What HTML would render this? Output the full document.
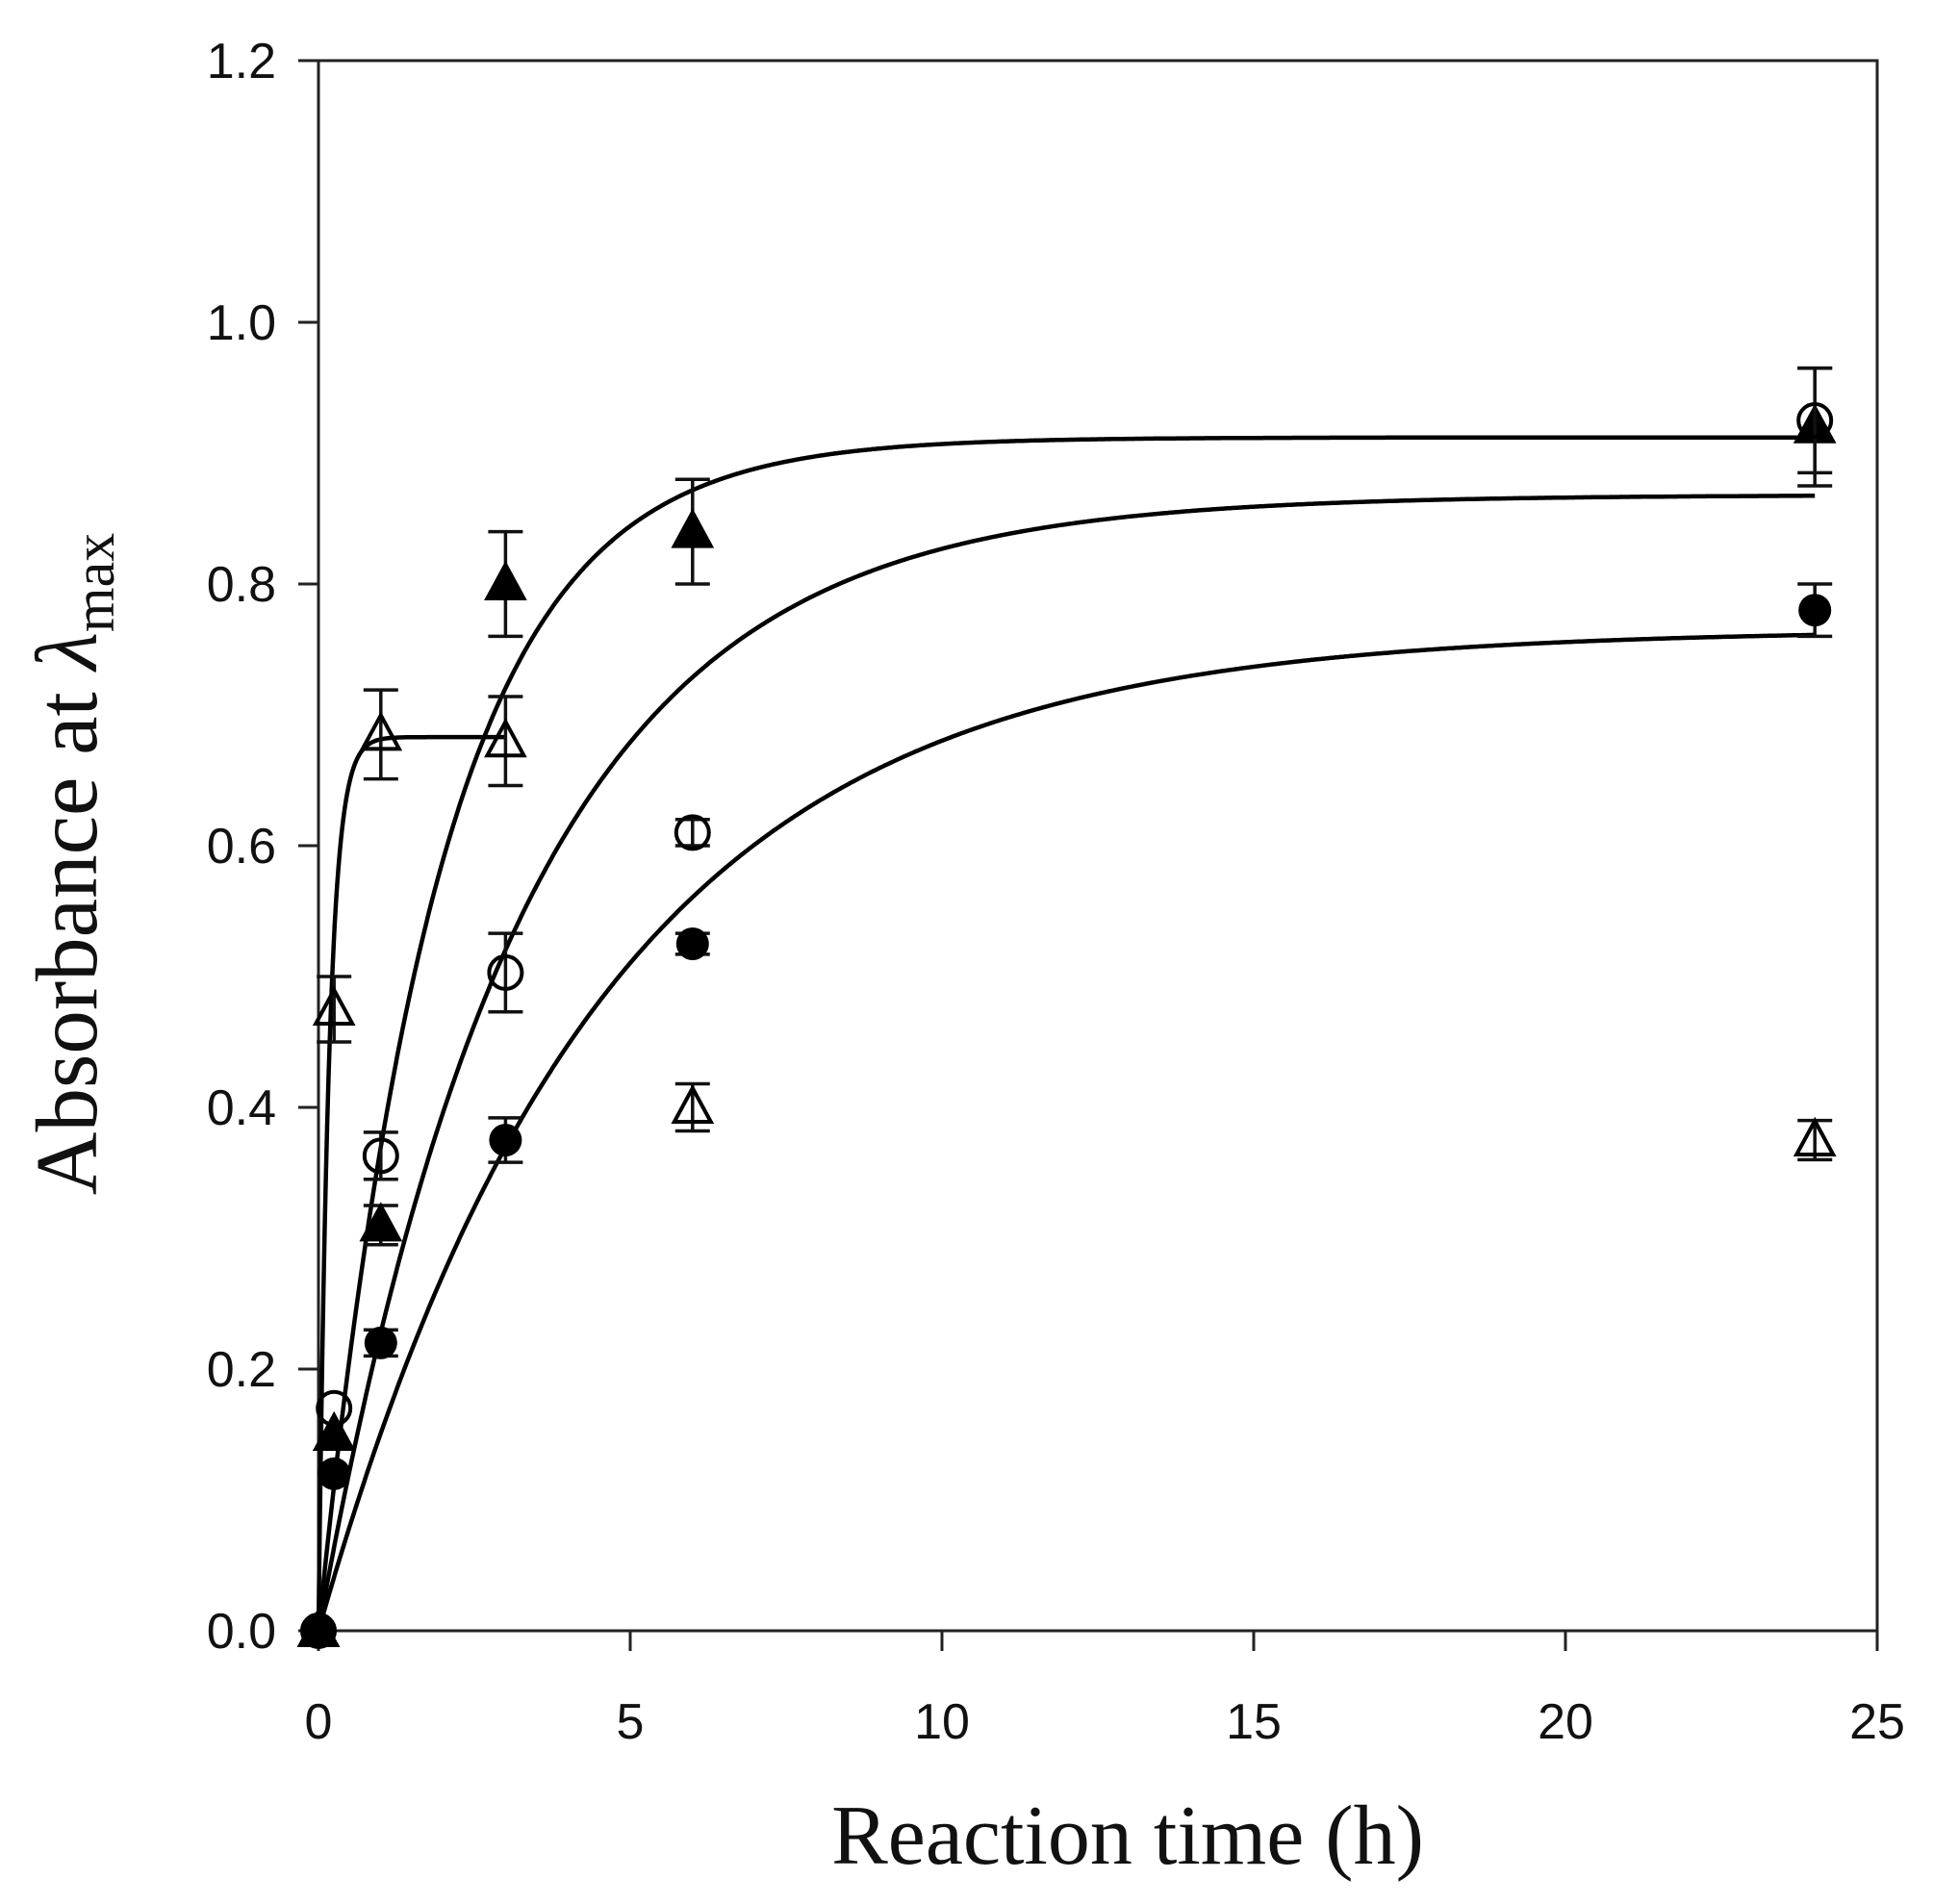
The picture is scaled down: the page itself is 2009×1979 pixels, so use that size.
<!DOCTYPE html>
<html><head><meta charset="utf-8">
<style>html,body{margin:0;padding:0;background:#fff;}svg{display:block;}</style>
</head><body>
<svg id="s" width="2009" height="1979" viewBox="0 0 2009 1979" xmlns="http://www.w3.org/2000/svg">
<g id="axes" stroke="#222" stroke-width="3" fill="none">
<rect x="331" y="63" width="1620" height="1632"/>
</g>
<g id="ticks" stroke="#222" stroke-width="3"></g>
<g id="labels" font-family="Liberation Sans, sans-serif" font-size="52" fill="#111"></g>
<g id="curves" stroke="#000" stroke-width="4.5" fill="none"></g>
<g id="pts"></g>
<text x="1172" y="1937" text-anchor="middle" font-family="Liberation Serif, serif" font-size="88" fill="#111">Reaction time (h)</text>
<text transform="translate(100,898) rotate(-90)" text-anchor="middle" font-family="Liberation Serif, serif" font-size="91" fill="#111">Absorbance at <tspan font-style="italic">λ</tspan><tspan font-size="60" dy="18">max</tspan></text>
</svg>
<script>
var NS="http://www.w3.org/2000/svg";
function X(t){return 331+t*64.8;}
function Y(v){return 1695-v*1360;}
function el(p,n,a){var e=document.createElementNS(NS,n);for(var k in a)e.setAttribute(k,a[k]);document.getElementById(p).appendChild(e);return e;}
for(var i=0;i<=25;i+=5){el("ticks","line",{x1:X(i),x2:X(i),y1:1695,y2:1716});var t=el("labels","text",{x:X(i),y:1807,"text-anchor":"middle"});t.textContent=i;}
for(var j=0;j<=6;j++){var v=j*0.2;el("ticks","line",{x1:310,x2:331,y1:Y(v),y2:Y(v)});var t=el("labels","text",{x:287,y:Y(v)+18,"text-anchor":"end"});t.textContent=v.toFixed(1);}
function curve(A,k,tmax){var d="";for(var t=0;t<=tmax+1e-9;t+=0.02){d+=(t==0?"M":"L")+X(t).toFixed(1)+","+Y(A*(1-Math.exp(-k*t))).toFixed(1);}el("curves","path",{d:d});}
curve(0.912,0.52,24);curve(0.868,0.305,24);curve(0.765,0.22,24);curve(0.683,6,3);
function err(x,y,e){if(!e)return;el("pts","line",{x1:X(x),x2:X(x),y1:Y(y-e),y2:Y(y+e),stroke:"#111","stroke-width":3.5});
[y-e,y+e].forEach(function(q){el("pts","line",{x1:X(x)-18,x2:X(x)+18,y1:Y(q),y2:Y(q),stroke:"#111","stroke-width":3.5});});}
function mark(type,x,y){var cx=X(x),cy=Y(y);
if(type=="fc")el("pts","circle",{cx:cx,cy:cy,r:17,fill:"#000"});
if(type=="oc")el("pts","circle",{cx:cx,cy:cy,r:17,fill:"none",stroke:"#000","stroke-width":4});
if(type=="ft"||type=="ot"){var p=(cx)+","+(cy-20)+" "+(cx-19)+","+(cy+15)+" "+(cx+19)+","+(cy+15);
el("pts","polygon",{points:p,fill:type=="ft"?"#000":"none",stroke:"#000","stroke-width":4});}}
var S={
ft:[[0,0,0],[0.25,0.15,0],[1,0.31,0.015],[3,0.80,0.04],[6,0.84,0.04],[24,0.92,0.045]],
oc:[[0,0,0],[0.25,0.17,0],[1,0.363,0.018],[3,0.503,0.03],[6,0.61,0.01],[24,0.925,0.04]],
fc:[[0,0,0],[0.25,0.12,0],[1,0.22,0.01],[3,0.375,0.017],[6,0.525,0.008],[24,0.78,0.02]],
ot:[[0,0,0],[0.25,0.475,0.025],[1,0.685,0.034],[3,0.68,0.034],[6,0.40,0.018],[24,0.375,0.015]]};
for(var k in S){S[k].forEach(function(d){err(d[0],d[1],d[2]);mark(k,d[0],d[1]);});}
</script>
</body></html>
